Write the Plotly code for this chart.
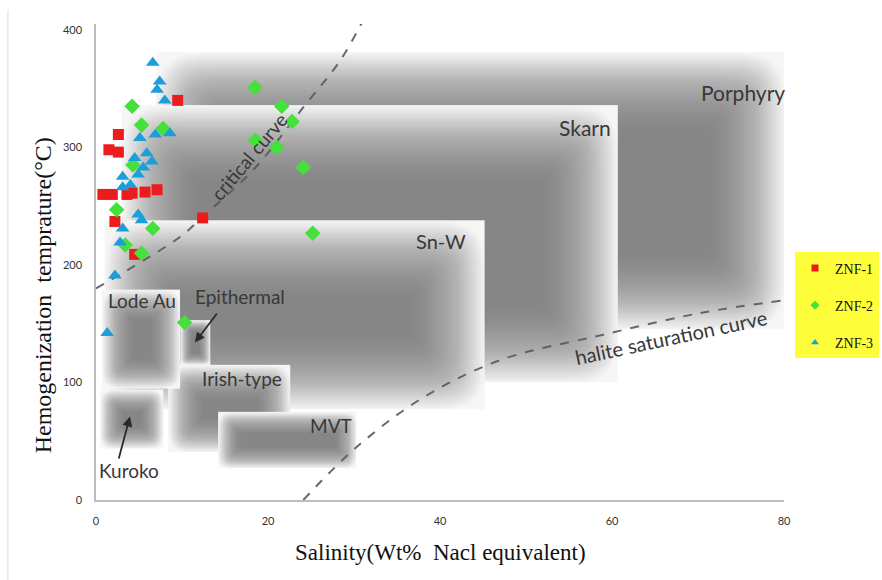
import numpy as np
import plotly.graph_objects as go

# ---- fluid-inclusion measurements: salinity (wt% NaCl eq.) vs homogenization temperature (°C)
znf1_salinity = [9.5, 2.6, 1.5, 2.6, 0.8, 1.9, 3.6, 4.2, 5.7, 7.1, 2.2, 12.4, 4.5]
znf1_temp = [340, 311, 298, 296, 260, 260, 260, 261, 262, 264, 237, 240, 209]

znf2_salinity = [4.2, 5.3, 7.8, 4.3, 2.4, 6.6, 3.4, 5.3, 18.5, 21.6, 22.8, 18.5, 21.0, 24.1, 25.2, 10.3]
znf2_temp = [335, 319, 316, 285, 247, 231, 217, 210, 351, 335, 322, 306, 300, 283, 227, 151]

znf3_salinity = [6.6, 7.4, 7.1, 8.0, 5.1, 6.9, 8.6, 5.9, 4.5, 6.5, 5.5, 3.1, 4.9, 3.1, 4.0,
                 4.9, 5.3, 3.1, 2.8, 2.2, 1.3]
znf3_temp = [372, 356, 349, 340, 308, 311, 312, 295, 291, 288, 283, 275, 277, 266, 268,
             243, 238, 231, 219, 191, 142]

# ---- deposit-type fields: name, salinity range, temperature range
field_names = ["Porphyry", "Skarn", "Sn-W", "Irish-type", "MVT", "Kuroko", "Lode Au", "Epithermal"]
field_sal_min = [7.0, 3.0, 1.0, 8.4, 14.2, 0.5, 0.7, 9.8]
field_sal_max = [80.0, 60.7, 45.2, 22.6, 30.3, 7.8, 9.8, 13.3]
field_t_min = [145, 100, 77, 41, 27, 44, 95, 115]
field_t_max = [381, 336, 238, 115, 75, 94, 179, 153]

# ---- reference curves
critical_sal = [0.0, 9.8, 12.4, 18.3, 24.1, 28.4, 30.9]
critical_t = [180, 224, 241, 281, 334, 374, 406]
halite_sal = [24.1, 30.3, 38.0, 47.0, 58.6, 70.2, 80.0]
halite_t = [0, 45, 87, 119, 140, 159, 170]

X_TICKS = [0, 20, 40, 60, 80]
Y_TICKS = [0, 100, 200, 300, 400]

# pixel scale of the axes (used only to shape the soft shading of each field)
PX_X = 8.6
PX_Y = 1.175

fig = go.Figure()

gray_scale = [[0.0, "rgb(246,246,246)"], [0.5, "rgb(180,180,180)"], [1.0, "rgb(134,134,134)"]]


def edge_ramp(dist_lo, dist_hi, w):
    t = np.clip(np.minimum(dist_lo, dist_hi) / w, 0, 1)
    return 1 - (1 - t) ** 1.6


def field_shading(x0, x1, y0, y1, nx=150, ny=120):
    xs = x0 + (np.arange(nx) + 0.5) * (x1 - x0) / nx
    ys = y0 + (np.arange(ny) + 0.5) * (y1 - y0) / ny
    wpx = (x1 - x0) * PX_X
    hpx = (y1 - y0) * PX_Y
    w = np.clip(0.42 * min(wpx, hpx), 10, 80)
    fx = edge_ramp((xs - x0) * PX_X, (x1 - xs) * PX_X, w)
    fy = edge_ramp((ys - y0) * PX_Y, (y1 - ys) * PX_Y, w)
    gx, gy = np.meshgrid(fx, fy)
    # pillow shading with softened corners
    z = 1 - ((1 - gx) ** 3 + (1 - gy) ** 3) ** (1 / 3)
    return xs, ys, np.clip(z, 0, 1)


for name, a, b, c, d in zip(field_names, field_sal_min, field_sal_max, field_t_min, field_t_max):
    xs, ys, z = field_shading(a, b, c, d)
    fig.add_trace(go.Heatmap(x=xs, y=ys, z=z, zmin=0, zmax=1, colorscale=gray_scale,
                             showscale=False, zsmooth="best", hoverinfo="skip",
                             showlegend=False, name=name))

curve_style = dict(color="rgba(90,90,90,0.9)", width=2, dash="dash", shape="spline")
fig.add_trace(go.Scatter(x=critical_sal, y=critical_t, mode="lines", line=curve_style,
                         showlegend=False, hoverinfo="skip"))
fig.add_trace(go.Scatter(x=halite_sal, y=halite_t, mode="lines", line=curve_style,
                         showlegend=False, hoverinfo="skip"))

series = [
    ("ZNF-1", znf1_salinity, znf1_temp, "square", "#ec1c1c", 11),
    ("ZNF-2", znf2_salinity, znf2_temp, "diamond", "#46e03c", 12),
    ("ZNF-3", znf3_salinity, znf3_temp, "triangle-up", "#1d9edb", 12),
]
for name, xs, ys, sym, col, sz in series:
    fig.add_trace(go.Scatter(x=xs, y=ys, mode="markers", name=name,
                             marker=dict(symbol=sym, color=col, size=sz, line=dict(width=0)),
                             showlegend=False))
for name, xs, ys, sym, col, sz in series:
    fig.add_trace(go.Scatter(x=[None], y=[None], mode="markers", name=name, legendgroup=name,
                             marker=dict(symbol=sym, color=col, size=7, line=dict(width=0))))

label_family = "Lato, Open Sans, sans-serif"
field_labels = [
    ("Porphyry", 75.2, 347, 21), ("Skarn", 56.9, 317, 21), ("Sn-W", 40.1, 220, 20),
    ("Lode Au", 5.35, 170, 19), ("Epithermal", 16.7, 173, 19), ("Irish-type", 17.0, 103, 19),
    ("MVT", 27.3, 63, 19), ("Kuroko", 3.8, 25, 19),
]
for text, x, y, size in field_labels:
    fig.add_annotation(x=x, y=y, text=text, showarrow=False,
                       font=dict(family=label_family, size=size, color="#383838"))

fig.add_annotation(x=17.8, y=292, text="critical curve", textangle=-50, showarrow=False,
                   font=dict(family=label_family, size=19, color="#383838"))
fig.add_annotation(x=66.9, y=139, text="halite saturation curve", textangle=-12, showarrow=False,
                   font=dict(family=label_family, size=20, color="#383838"))

# pointer arrows
for hx, hy, tx, ty in [(11.5, 134, 14.2, 160), (3.95, 71, 2.6, 34)]:
    fig.add_annotation(x=hx, y=hy, ax=tx, ay=ty, xref="x", yref="y", axref="x", ayref="y",
                       text="", showarrow=True, arrowhead=2, arrowsize=1.1, arrowwidth=1.8,
                       arrowcolor="#2a2a2a")

# axis titles
title_font = dict(family="Liberation Serif, Times New Roman, serif", size=23, color="#111")
fig.add_annotation(x=0.5, y=-0.111, xref="paper", yref="paper", xanchor="center", yanchor="middle",
                   showarrow=False, text="Salinity(Wt%\u00a0\u00a0Nacl equivalent)", font=title_font)
fig.add_annotation(x=-0.077, y=0.43, xref="paper", yref="paper", xanchor="center", yanchor="middle",
                   showarrow=False, textangle=-90,
                   text="Hemogenization\u00a0\u00a0temprature(°C)", font=dict(title_font, size=24))

# faint page edge on the left
fig.add_shape(type="line", xref="paper", yref="paper", x0=-0.128, x1=-0.128, y0=1.03, y1=-0.17,
              line=dict(color="#dddddd", width=1))

tick_font = dict(family="Lato, sans-serif", size=11, color="#333")
fig.update_xaxes(range=[0, 80], tickvals=X_TICKS, showgrid=False, zeroline=False,
                 showline=True, linecolor="#bdbdbd", linewidth=1.5, ticks="",
                 tickfont=tick_font, ticklabelstandoff=10)
fig.update_yaxes(range=[0, 405], tickvals=Y_TICKS, showgrid=False, zeroline=False,
                 showline=True, linecolor="#bdbdbd", linewidth=1.5, ticks="",
                 tickfont=tick_font, ticklabelstandoff=10)

fig.update_layout(
    width=882, height=580,
    margin=dict(l=96, r=98, t=24, b=80, autoexpand=False),
    paper_bgcolor="white", plot_bgcolor="white",
    legend=dict(x=1.016, y=0.52, xanchor="left", yanchor="top", bgcolor="#fdfd3a",
                font=dict(family="Liberation Serif, serif", size=14, color="#111"),
                itemwidth=30, tracegroupgap=16, borderwidth=0),
)

fig.write_html("out.html")
